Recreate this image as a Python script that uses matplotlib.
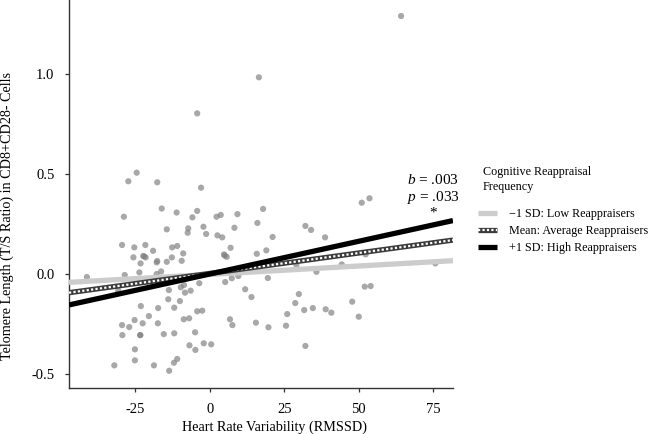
import matplotlib
matplotlib.use("Agg")
import matplotlib.pyplot as plt
import numpy as np

plt.rcParams.update({
    "font.family": ["Liberation Serif", "DejaVu Serif"],
    "mathtext.fontset": "custom",
    "mathtext.rm": "Liberation Serif",
    "mathtext.it": "Liberation Serif:italic",
    "axes.unicode_minus": False,
})

# scatter: HRV (RMSSD, centred) vs telomere length (T/S ratio)
hrv = [
    -28.8, -16.1, -11.1, -5.8, -4.2, 2.3, 3.7, 9.3, 16.0, -14.4,
    -7.2, -7.4, -2.1, -1.2, 2.6, 4.2, 8.3, -29.4, -25.3, -21.6,
    -12.6, -10.9, 7.0, -19.0, -25.6, -22.3, -21.5, -12.7, -8.9, 4.8,
    5.7, 15.8, -23.2, -17.6, -17.8, -14.4, -9.4, -16.3, -17.8, -23.6,
    -28.5, -41.2, -30.7, -3.5, -8.6, -9.7, -13.7, -6.4, -8.3, -13.9,
    -10.0, 5.2, 7.4, 9.6, 11.9, 14.0, -23.1, -17.3, -11.9, -4.2,
    -2.5, -20.4, -8.7, -6.9, 6.8, 7.6, 15.5, -29.4, -27.0, -25.2,
    -22.5, -17.4, -29.3, -23.3, -23.3, -15.4, -11.9, -4.9, -25.1, -6.8,
    -4.8, -2.0, 0.5, -25.1, -10.9, -12.0, -32.0, -18.7, -13.6, -27.3,
    -24.5, -17.6, -4.2, -2.9, 16.5, 64.2, 51.0, 53.6, 17.9, 21.1,
    32.1, 34.0, 38.7, 19.0, 29.1, 44.3, 52.3, 75.7, 19.5, 35.8,
    52.0, 54.0, 19.7, 25.6, 26.0, 28.7, 29.9, 31.7, 34.6, 38.9,
    40.8, 47.8, 50.0, 32.1, -22.0, 5.0,
]
telomere = [
    0.286, 0.327, 0.307, 0.283, 0.315, 0.286, 0.295, 0.299, 0.255, 0.223,
    0.228, 0.206, 0.236, 0.200, 0.193, 0.183, 0.231, 0.145, 0.133, 0.145,
    0.133, 0.140, 0.131, 0.116, 0.083, 0.090, 0.083, 0.083, 0.103, 0.098,
    0.086, 0.101, 0.053, 0.065, 0.058, 0.061, 0.066, 0.013, 0.000, 0.008,
    -0.005, -0.015, -0.083, -0.046, -0.055, -0.066, -0.080, -0.083, -0.093, -0.126,
    -0.135, -0.040, -0.021, -0.010, -0.076, -0.115, -0.160, -0.170, -0.168, -0.186,
    -0.183, -0.210, -0.226, -0.221, -0.226, -0.255, -0.243, -0.255, -0.265, -0.230,
    -0.246, -0.246, -0.305, -0.305, -0.305, -0.300, -0.296, -0.291, -0.376, -0.356,
    -0.379, -0.346, -0.351, -0.431, -0.424, -0.443, -0.456, -0.456, -0.483, 0.463,
    0.506, 0.458, 0.802, 0.431, 0.982, 1.288, 0.356, 0.378, 0.325, 0.185,
    0.240, 0.220, 0.183, 0.118, 0.045, 0.048, 0.098, 0.053, -0.020, 0.011,
    -0.063, -0.060, -0.266, -0.258, -0.200, -0.145, -0.100, -0.180, -0.170, -0.176,
    -0.193, -0.138, -0.213, -0.359, 0.088, 0.092,
]

# simple slopes at -1 SD, mean, +1 SD of reappraisal
groups = ["\u22121 SD: Low Reappraisers", "Mean: Average Reappraisers", "+1 SD: High Reappraisers"]
intercepts = [-0.002, 0.003, 0.000]
slopes = [0.00084, 0.00204, 0.00327]

x_ticks = [-25, 0, 25, 50, 75]
y_ticks = [-0.5, 0.0, 0.5, 1.0]
x_range = (-47.2, 81.6)
y_range = (-0.569, 1.368)

fig = plt.figure(figsize=(6.48, 4.34), dpi=100)
ax = fig.add_axes([0.1065, 0.106, 0.5925, 0.894])

ax.scatter(hrv, telomere, s=20, color="#7f7f7f", alpha=0.68, edgecolors="none", zorder=2)

xs = np.array(x_range)
low = ax.plot(xs, intercepts[0] + slopes[0] * xs, color="#cccccc", lw=3.8,
              solid_capstyle="butt", zorder=3)[0]
mean_base = ax.plot(xs, intercepts[1] + slopes[1] * xs, color="#3a3a3a", lw=3.8,
                    solid_capstyle="butt", zorder=4)[0]
mean_dash = ax.plot(xs, intercepts[1] + slopes[1] * xs, color="white", lw=1.6,
                    dashes=(1.0, 1.0), dash_capstyle="butt", zorder=5)[0]
high = ax.plot(xs, intercepts[2] + slopes[2] * xs, color="black", lw=3.8,
               solid_capstyle="butt", zorder=6)[0]

ax.set_xlim(*x_range)
ax.set_ylim(*y_range)
ax.set_xticks(x_ticks)
ax.set_xticklabels([str(t) for t in x_ticks])
ax.set_yticks(y_ticks)
ax.set_yticklabels([f"{t:.1f}" for t in y_ticks])
ax.tick_params(labelsize=10.5, length=3, width=0.9, color="#333333", pad=7.5)
for side in ("top", "right"):
    ax.spines[side].set_visible(False)
for side in ("left", "bottom"):
    ax.spines[side].set_linewidth(1.0)
    ax.spines[side].set_color("#333333")

ax.set_xlabel("Heart Rate Variability (RMSSD)", fontsize=10.2)
ax.xaxis.set_label_coords(0.536, -0.083)
ax.set_ylabel("Telomere Length (T/S Ratio) in CD8+CD28- Cells", fontsize=10.2)
ax.yaxis.set_label_coords(-0.143, 0.443)

ax.text(0.88, 0.536, "$b$ = .003", transform=ax.transAxes, fontsize=11,
        ha="left", va="center", clip_on=False)
ax.text(0.88, 0.492, "$p$ = .033", transform=ax.transAxes, fontsize=11,
        ha="left", va="center", clip_on=False)
ax.text(0.948, 0.451, "*", transform=ax.transAxes, fontsize=11,
        ha="center", va="center", clip_on=False)

fig.text(0.745, 0.587, "Cognitive Reappraisal\nFrequency", fontsize=8.7,
         ha="left", va="center", linespacing=1.3)
fig.legend([low, (mean_base, mean_dash), high], groups,
           loc="upper left", bbox_to_anchor=(0.730, 0.532), frameon=False,
           fontsize=8.7, handlelength=1.6, handletextpad=0.95,
           labelspacing=0.42, borderaxespad=0)

fig.savefig("out.png", dpi=100)
